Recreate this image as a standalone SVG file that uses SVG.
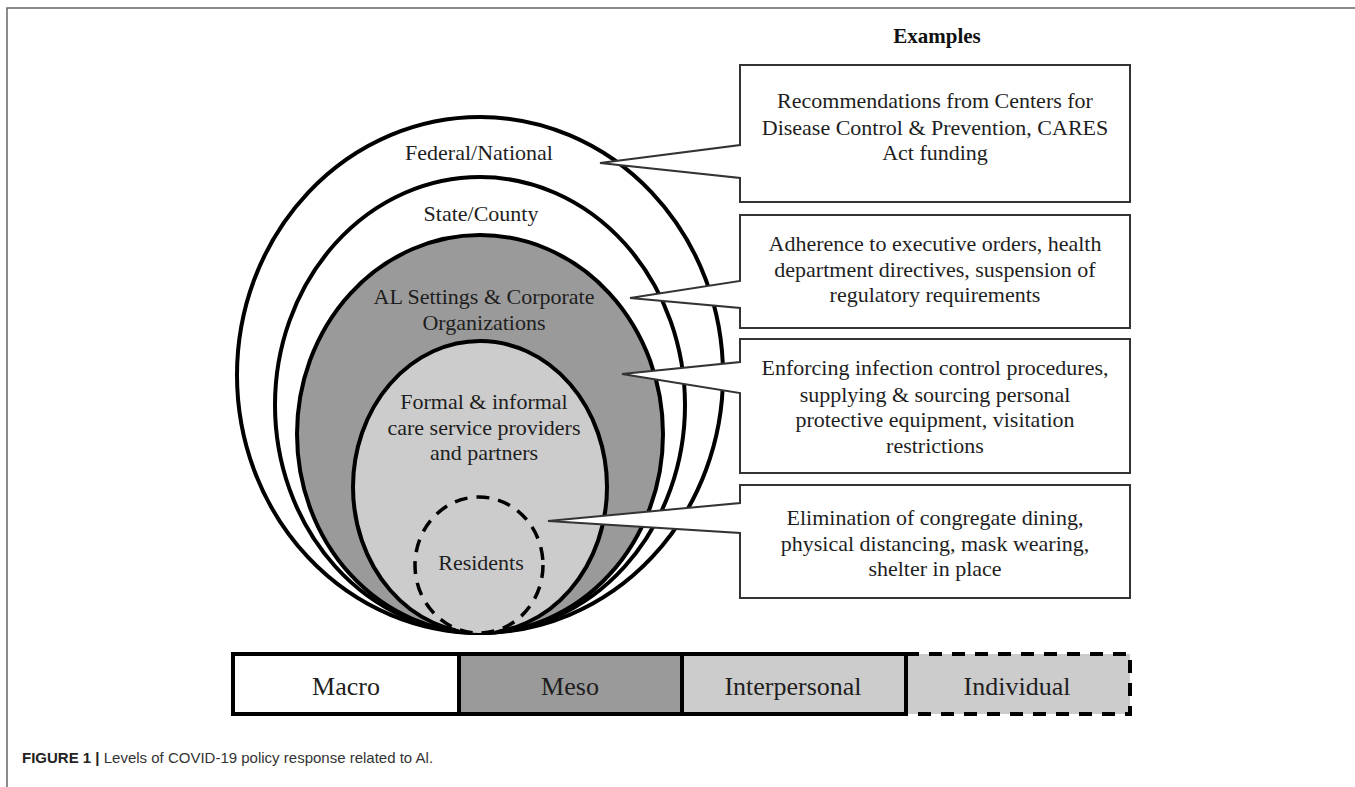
<svg xmlns="http://www.w3.org/2000/svg" width="1355" height="787" viewBox="0 0 1355 787">
<style>
.lbl{font-family:"Liberation Serif","Times New Roman",serif;font-size:22px;fill:#1e1e1e;text-anchor:middle}
.bar{font-family:"Liberation Serif","Times New Roman",serif;font-size:26px;fill:#1e1e1e;text-anchor:middle}
.ell{stroke:#000;stroke-width:4}
.call{fill:#fff;stroke:#333;stroke-width:2;stroke-linejoin:miter}
.cap{font-family:"Liberation Sans",Arial,sans-serif;font-size:15px;fill:#333}
</style>
<rect width="1355" height="787" fill="#fff"/>
<path d="M7,787 V8 H1355" fill="none" stroke="#666" stroke-width="1.5"/>
<text x="937" y="43" font-family="'Liberation Serif','Times New Roman',serif" font-size="21" font-weight="bold" text-anchor="middle" fill="#111">Examples</text>

<g id="federal">
<ellipse class="ell" cx="480" cy="375" rx="243" ry="258" fill="#fff"/>
<text class="lbl" x="479" y="160">Federal/National</text>
</g>
<g id="state">
<ellipse class="ell" cx="480" cy="405" rx="205" ry="228" fill="#fff"/>
<text class="lbl" x="481" y="221">State/County</text>
</g>
<g id="al-settings">
<ellipse class="ell" cx="480" cy="434" rx="183" ry="199" fill="#9a9a9a"/>
<text class="lbl" x="484" y="304">AL Settings &amp; Corporate</text>
<text class="lbl" x="484" y="330">Organizations</text>
</g>
<g id="formal">
<ellipse class="ell" cx="480" cy="487" rx="127" ry="146" fill="#cccccc"/>
<text class="lbl" x="484" y="409">Formal &amp; informal</text>
<text class="lbl" x="484" y="435">care service providers</text>
<text class="lbl" x="484" y="460">and partners</text>
</g>
<g id="residents">
<ellipse cx="479" cy="565" rx="64" ry="68" fill="#cccccc" stroke="#000" stroke-width="3.5" stroke-dasharray="13 9"/>
<text class="lbl" x="481" y="570">Residents</text>
</g>

<g id="connectors">
<path class="call" d="M740,65 H1130 V202 H740 V178 L600,163 L740,145 Z"/>
<path class="call" d="M740,215 H1130 V328 H740 V308 L630,298 L740,281 Z"/>
<path class="call" d="M740,339 H1130 V473 H740 V393 L622,374 L740,362 Z"/>
<path class="call" d="M740,485 H1130 V598 H740 V533 L548,521 L740,503 Z"/>
</g>

<g id="ex-federal">
<text class="lbl" x="935" y="108">Recommendations from Centers for</text>
<text class="lbl" x="935" y="135">Disease Control &amp; Prevention, CARES</text>
<text class="lbl" x="935" y="160">Act funding</text>
</g>
<g id="ex-state">
<text class="lbl" x="935" y="251">Adherence to executive orders, health</text>
<text class="lbl" x="935" y="277">department directives, suspension of</text>
<text class="lbl" x="935" y="302">regulatory requirements</text>
</g>
<g id="ex-al">
<text class="lbl" x="935" y="375">Enforcing infection control procedures,</text>
<text class="lbl" x="935" y="402">supplying &amp; sourcing personal</text>
<text class="lbl" x="935" y="427">protective equipment, visitation</text>
<text class="lbl" x="935" y="453">restrictions</text>
</g>
<g id="ex-residents">
<text class="lbl" x="935" y="525">Elimination of congregate dining,</text>
<text class="lbl" x="935" y="551">physical distancing, mask wearing,</text>
<text class="lbl" x="935" y="576">shelter in place</text>
</g>

<g id="legend">
<rect x="233" y="654" width="226" height="60" fill="#fff"/>
<rect x="459" y="654" width="223" height="60" fill="#9a9a9a"/>
<rect x="682" y="654" width="224" height="60" fill="#cccccc"/>
<rect x="906" y="654" width="224" height="60" fill="#cccccc"/>
<path d="M906,654 H233 V714 H906 M459,654 V714 M682,654 V714 M906,654 V714" fill="none" stroke="#000" stroke-width="4"/>
<path d="M906,654 H1130 V714 H906" fill="none" stroke="#000" stroke-width="4" stroke-dasharray="13 10"/>
<text class="bar" x="346" y="695">Macro</text>
<text class="bar" x="570" y="695">Meso</text>
<text class="bar" x="793" y="695">Interpersonal</text>
<text class="bar" x="1017" y="695">Individual</text>
</g>

<text class="cap" x="22" y="763"><tspan font-weight="bold" fill="#222">FIGURE 1 |</tspan> Levels of COVID-19 policy response related to Al.</text>
</svg>
